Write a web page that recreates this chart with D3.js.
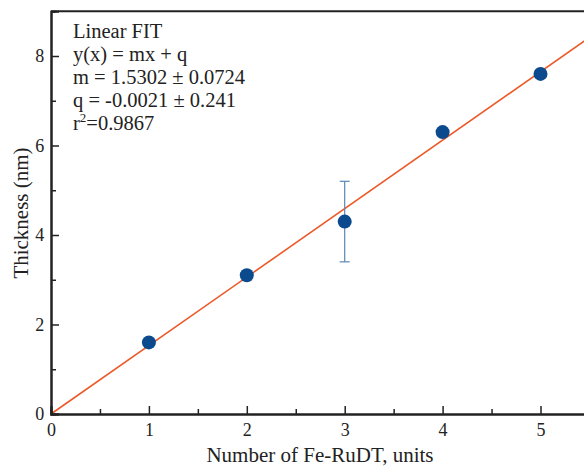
<!DOCTYPE html>
<html><head><meta charset="utf-8">
<script src="https://cdn.jsdelivr.net/npm/d3@7"></script>
<style>body{margin:0;background:#fff}svg{display:block}text{font-family:"Liberation Serif","Times New Roman",serif;fill:#222}</style>
</head><body><svg id="c" width="584" height="467"></svg>
<script>
const units = [1, 2, 3, 4, 5];
const thickness = [1.6, 3.1, 4.3, 6.3, 7.6];
const errors = [0, 0, 0.9, 0, 0];
const fitM = 1.5302, fitQ = -0.0021;
const xTicks = [0, 1, 2, 3, 4, 5];
const yTicks = [0, 2, 4, 6, 8];
const annotation = ["Linear FIT", "y(x) = mx + q", "m = 1.5302 \u00b1 0.0724", "q = -0.0021 \u00b1 0.241"];

const svg = d3.select("#c");
const x = d3.scaleLinear().domain([0, 5.5]).range([51, 51 + 5.5 * 97.9]);
const y = d3.scaleLinear().domain([0, 9]).range([414, 414 - 9 * 44.75]);

// fit line
svg.append("line")
  .attr("x1", x(0)).attr("y1", y(0))
  .attr("x2", x(5.5)).attr("y2", y(fitM * 5.5 + fitQ))
  .attr("stroke", "#ec5a2a").attr("stroke-width", 1.6);

// error bars
const eb = svg.append("g").attr("stroke", "#5a86b4").attr("stroke-width", 1.2);
units.forEach((u, i) => {
  if (!errors[i]) return;
  const cx = x(u), t = y(thickness[i] + errors[i]), b = y(thickness[i] - errors[i]);
  eb.append("line").attr("x1", cx).attr("x2", cx).attr("y1", t).attr("y2", b);
  eb.append("line").attr("x1", cx - 5).attr("x2", cx + 5).attr("y1", t).attr("y2", t);
  eb.append("line").attr("x1", cx - 5).attr("x2", cx + 5).attr("y1", b).attr("y2", b);
});

// points
svg.append("g").selectAll("circle").data(units).join("circle")
  .attr("cx", d => x(d)).attr("cy", (d, i) => y(thickness[i]))
  .attr("r", 7).attr("fill", "#0b4a8c");

// axes
const axisColor = "#222";
const xAxis = svg.append("g").attr("transform", `translate(0,${y(0)})`)
  .call(d3.axisBottom(x).tickValues(xTicks).tickSize(-8).tickPadding(13).tickFormat(d3.format("d")));
const xMinor = svg.append("g").attr("transform", `translate(0,${y(0)})`)
  .call(d3.axisBottom(x).tickValues([0.5, 1.5, 2.5, 3.5, 4.5]).tickSize(-5).tickFormat(""));
const yAxis = svg.append("g").attr("transform", `translate(${x(0)},0)`)
  .call(d3.axisLeft(y).tickValues(yTicks).tickSize(-8).tickPadding(14).tickFormat(d3.format("d")));
const yMinor = svg.append("g").attr("transform", `translate(${x(0)},0)`)
  .call(d3.axisLeft(y).tickValues([1, 3, 5, 7]).tickSize(-5).tickFormat(""));
[xAxis, xMinor, yAxis, yMinor].forEach(g => {
  g.selectAll(".domain").attr("stroke", axisColor).attr("stroke-width", 2);
  g.selectAll(".tick line").attr("stroke", axisColor).attr("stroke-width", 1.5);
  g.selectAll(".tick text").style("font-size", "18px").attr("fill", "#222");
});
xAxis.selectAll(".tick text").attr("dy", "0.5em");
yAxis.selectAll(".tick text").attr("dx", "0.4em");
// top frame
svg.append("line").attr("x1", x(0)).attr("x2", x(5.5)).attr("y1", y(9)).attr("y2", y(9))
  .attr("stroke", axisColor).attr("stroke-width", 2);

// titles
svg.append("text").attr("x", 320).attr("y", 462).attr("text-anchor", "middle")
  .style("font-size", "21px").text("Number of Fe-RuDT, units");
svg.append("text").attr("transform", "translate(28,213) rotate(-90)").attr("text-anchor", "middle")
  .style("font-size", "21px").text("Thickness (nm)");

// annotation
const ann = svg.append("g").style("font-size", "20.5px");
annotation.forEach((s, i) => {
  ann.append("text").attr("x", 73).attr("y", 37.5 + i * 23).text(s);
});
const r2 = ann.append("text").attr("x", 73).attr("y", 37.5 + 4 * 23);
r2.append("tspan").text("r");
r2.append("tspan").attr("dy", -8).style("font-size", "13px").text("2");
r2.append("tspan").attr("dy", 8).text("=0.9867");
</script></body></html>
